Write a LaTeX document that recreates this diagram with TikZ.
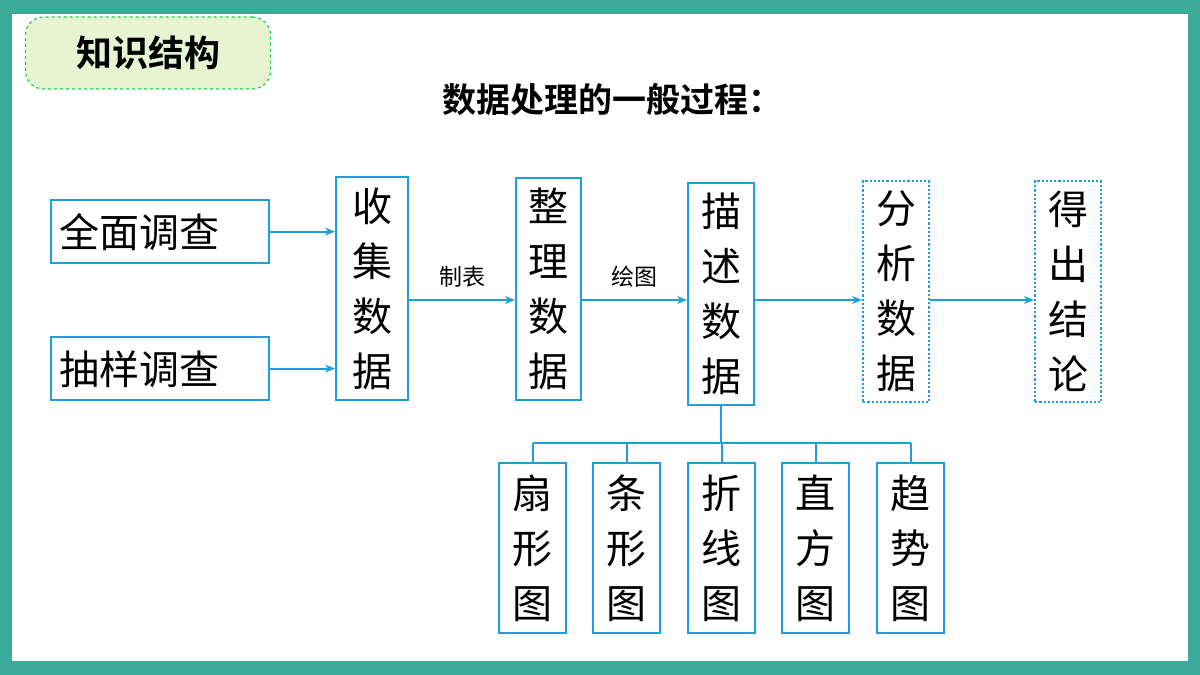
\documentclass[tikz,border=0pt]{standalone}
\usepackage{fontspec}
\newfontfamily\cjk{Noto Sans CJK SC}
\newfontfamily\cjkb{Noto Sans CJK SC Bold}
\usetikzlibrary{arrows.meta}
\definecolor{teal}{HTML}{3BAA98}
\definecolor{lb}{HTML}{1E9FD9}
\definecolor{tagg}{HTML}{E6F4D2}
\tikzset{
 bx/.style={draw=lb,line width=2.2pt,inner sep=0pt,font=\cjk\fontsize{40}{55}\selectfont},
 hb/.style={bx,minimum width=218pt,minimum height=63pt,anchor=north west},
 vb/.style={bx,anchor=north west,align=center},
 dbx/.style={vb,dotted},
 ar/.style={draw=lb,line width=1.8pt,-{Stealth[length=10pt,width=8pt]}},
 ln/.style={draw=lb,line width=1.8pt},
 lab/.style={font=\cjk\fontsize{23}{26}\selectfont}
}
\begin{document}
\begin{tikzpicture}[x=1pt,y=-1pt]
\useasboundingbox (0,0) rectangle (1200,675);
\fill[teal] (0,0) rectangle (1200,675);
\fill[white] (12,14) rectangle (1188,661);
% tag
\node[fill=tagg,draw=teal!60!green,dashed,line width=1.2pt,rounded corners=18pt,minimum width=245pt,minimum height=72pt,font=\cjkb\fontsize{36}{40}\selectfont] (tag) at (148,53) {知识结构};
\node[font=\cjkb\fontsize{34}{40}\selectfont] (title) at (612,100) {数据处理的一般过程：};
\node[hb] (qm) at (50,199) {};
\node[anchor=west,font=\cjk\fontsize{40}{45}\selectfont] (qmt) at (56,232) {全面调查};
\node[hb] (cy) at (50,336) {};
\node[anchor=west,font=\cjk\fontsize{40}{45}\selectfont] (cyt) at (56,369) {抽样调查};
\node[vb,minimum width=72pt,minimum height=223pt] (sj) at (335,176) {收\\集\\数\\据};
\node[vb,minimum width=65pt,minimum height=222pt] (zl) at (515,177) {整\\理\\数\\据};
\node[vb,minimum width=66pt,minimum height=222pt] (ms) at (687,182) {描\\述\\数\\据};
\node[dbx,minimum width=66pt,minimum height=221pt] (fx) at (862,180) {分\\析\\数\\据};
\node[dbx,minimum width=66pt,minimum height=221pt] (dc) at (1034,180) {得\\出\\结\\论};
\draw[ar] (qm.east) -- (qm.east -| sj.west);
\draw[ar] (cy.east) -- (cy.east -| sj.west);
\coordinate (my) at (0,300);
\draw[ar] (sj.east |- my) -- (zl.west |- my) node[lab,midway,above=8pt] (zb) {制表};
\draw[ar] (zl.east |- my) -- (ms.west |- my) node[lab,midway,above=8pt] (ht) {绘图};
\draw[ar] (ms.east |- my) -- (fx.west |- my);
\draw[ar] (fx.east |- my) -- (dc.west |- my);
\foreach \n/\x/\t in {a/498/扇\\形\\图, b/592/条\\形\\图, c/687/折\\线\\图, d/781/直\\方\\图, e/876/趋\\势\\图}{
 \node[vb,minimum width=67pt,minimum height=170pt] (\n) at (\x,462) {\t};
}
\coordinate (hub) at (ms.south |- 0,443);
\draw[ln] (ms.south) -- (hub);
\draw[ln] (a.north |- hub) -- (e.north |- hub);
\foreach \n in {a,b,c,d,e}{\draw[ln] (\n.north |- hub) -- (\n.north);}
\end{tikzpicture}
\end{document}
